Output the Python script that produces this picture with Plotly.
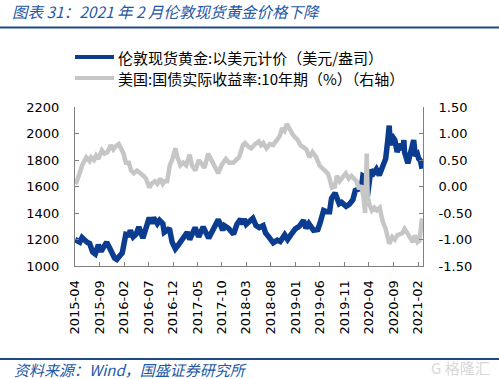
import plotly.graph_objects as go

# ---------------- data ----------------
gold_dates = [
    "2015-04-01","2015-04-15","2015-05-01","2015-05-15","2015-06-01","2015-06-15","2015-07-01","2015-07-20",
    "2015-08-05","2015-08-24","2015-09-10","2015-09-25","2015-10-15","2015-11-01","2015-11-20","2015-12-03",
    "2015-12-17","2016-01-05","2016-01-20","2016-02-11","2016-03-01","2016-03-10","2016-03-28","2016-04-15",
    "2016-05-02","2016-05-27","2016-06-15","2016-07-06","2016-07-20","2016-08-02","2016-08-25","2016-09-08",
    "2016-09-28","2016-10-07","2016-10-25","2016-11-08","2016-11-25","2016-12-15","2017-01-03","2017-01-25",
    "2017-02-15","2017-02-27","2017-03-14","2017-04-03","2017-04-17","2017-05-09","2017-06-06","2017-07-10",
    "2017-08-01","2017-08-28","2017-09-08","2017-10-05","2017-10-16","2017-11-10","2017-12-12","2018-01-02",
    "2018-01-25","2018-02-08","2018-02-16","2018-03-01","2018-04-11","2018-05-01","2018-05-21","2018-06-14",
    "2018-06-29","2018-07-19","2018-08-16","2018-09-10","2018-09-28","2018-10-26","2018-11-13","2018-12-03",
    "2018-12-31","2019-01-25","2019-02-20","2019-03-07","2019-03-25","2019-04-23","2019-05-20","2019-06-03",
    "2019-06-25","2019-07-15","2019-08-01","2019-08-13","2019-09-04","2019-09-30","2019-10-15","2019-11-12",
    "2019-12-01","2019-12-24","2020-01-08","2020-01-27","2020-02-14","2020-02-24","2020-03-09","2020-03-19",
    "2020-04-14","2020-05-01","2020-05-18","2020-06-05","2020-06-30","2020-07-15","2020-07-27","2020-08-06",
    "2020-08-12","2020-08-19","2020-09-10","2020-09-24","2020-10-12","2020-10-30","2020-11-05","2020-11-09",
    "2020-11-30","2020-12-15","2021-01-05","2021-01-15","2021-01-28","2021-02-05","2021-02-16","2021-02-26",
]
gold_values = [
    1200,1195,1180,1215,1190,1180,1170,1105,
    1090,1160,1110,1145,1180,1140,1075,1060,
    1050,1080,1100,1240,1235,1270,1220,1240,
    1295,1210,1285,1365,1320,1365,1320,1345,
    1320,1255,1270,1285,1180,1130,1160,1200,
    1235,1255,1200,1250,1290,1220,1295,1210,
    1270,1320,1350,1270,1305,1285,1240,1315,
    1355,1315,1355,1315,1360,1305,1290,1305,
    1250,1220,1175,1195,1185,1235,1200,1235,
    1280,1300,1345,1285,1320,1270,1275,1325,
    1420,1410,1410,1510,1550,1470,1480,1450,
    1465,1500,1570,1580,1585,1680,1670,1490,
    1725,1700,1730,1685,1770,1810,1940,2060,
    1910,1990,1950,1860,1920,1880,1950,1860,
    1775,1855,1950,1830,1845,1810,1795,1735,
]

yield_dates = [
    "2015-04-01","2015-04-10","2015-04-30","2015-05-15","2015-06-10","2015-06-30","2015-07-10","2015-07-28",
    "2015-08-10","2015-08-24","2015-09-15","2015-10-01","2015-10-20","2015-11-09","2015-11-25","2015-12-10",
    "2015-12-29","2016-01-12","2016-01-28","2016-02-11","2016-03-01","2016-03-15","2016-04-01","2016-04-20",
    "2016-05-15","2016-06-01","2016-06-15","2016-07-06","2016-07-20","2016-08-10","2016-08-25","2016-09-12",
    "2016-09-28","2016-10-10","2016-10-25","2016-11-10","2016-11-25","2016-12-15","2016-12-28","2017-01-15",
    "2017-02-01","2017-02-20","2017-03-14","2017-03-28","2017-04-18","2017-05-10","2017-05-30","2017-06-14",
    "2017-07-07","2017-07-25","2017-08-10","2017-09-07","2017-09-28","2017-10-25","2017-11-15","2017-12-10",
    "2017-12-28","2018-01-15","2018-02-08","2018-02-21","2018-03-15","2018-04-01","2018-04-25","2018-05-17",
    "2018-06-01","2018-06-15","2018-07-05","2018-07-25","2018-08-15","2018-09-05","2018-09-25","2018-10-10",
    "2018-10-25","2018-11-08","2018-11-28","2018-12-15","2018-12-31","2019-01-15","2019-02-01","2019-02-20",
    "2019-03-10","2019-03-28","2019-04-17","2019-05-10","2019-05-30","2019-06-15","2019-07-01","2019-07-20",
    "2019-08-01","2019-08-15","2019-09-03","2019-09-15","2019-10-03","2019-10-25","2019-11-10","2019-11-28",
    "2019-12-15","2019-12-31","2020-01-15","2020-01-31","2020-02-14","2020-02-28","2020-03-09","2020-03-19",
    "2020-03-25","2020-04-06","2020-04-20","2020-05-05","2020-05-20","2020-06-08","2020-06-25","2020-07-15",
    "2020-07-31","2020-08-06","2020-08-25","2020-09-10","2020-09-25","2020-10-12","2020-10-26","2020-11-10",
    "2020-11-30","2020-12-15","2020-12-31","2021-01-12","2021-01-29","2021-02-10","2021-02-22","2021-02-26",
]
yield_values = [
    0.05,0.08,0.25,0.40,0.55,0.48,0.55,0.50,
    0.58,0.52,0.68,0.62,0.65,0.78,0.70,0.76,
    0.80,0.72,0.62,0.45,0.45,0.30,0.25,0.30,
    0.25,0.20,0.15,-0.02,0.05,0.10,0.05,0.15,
    0.05,0.10,0.10,0.40,0.50,0.72,0.55,0.40,
    0.45,0.40,0.60,0.40,0.30,0.50,0.42,0.35,
    0.62,0.50,0.40,0.25,0.40,0.52,0.45,0.45,
    0.50,0.55,0.78,0.82,0.75,0.72,0.80,0.85,
    0.78,0.82,0.72,0.80,0.78,0.88,0.95,1.10,
    1.05,1.18,1.05,0.98,0.92,0.88,0.78,0.75,
    0.70,0.55,0.65,0.55,0.40,0.35,0.30,0.25,
    0.15,-0.02,0.00,0.20,0.10,0.20,0.25,0.15,
    0.20,0.15,0.10,-0.05,0.02,-0.20,-0.50,0.62,
    -0.20,-0.35,-0.45,-0.40,-0.45,-0.40,-0.65,-0.80,
    -1.00,-1.08,-0.95,-1.00,-0.92,-0.90,-0.88,-0.80,
    -0.90,-0.98,-1.05,-0.92,-1.05,-1.02,-0.75,-0.60,
]

x_tick_vals = ["2015-04-01","2015-09-01","2016-02-01","2016-07-01","2016-12-01","2017-05-01","2017-10-01",
               "2018-03-01","2018-08-01","2019-01-01","2019-06-01","2019-11-01","2020-04-01","2020-09-01",
               "2021-02-01"]
x_tick_text = [d[:7] for d in x_tick_vals]
left_ticks = [1000, 1200, 1400, 1600, 1800, 2000, 2200]
right_ticks = [-1.5, -1.0, -0.5, 0.0, 0.5, 1.0, 1.5]
right_tick_text = ["%.2f" % v for v in right_ticks]

gold_name = "伦敦现货黄金:以美元计价（美元/盎司）"
yield_name = "美国:国债实际收益率:10年期（%）（右轴）"
title_text = "图表 31：2021 年 2 月伦敦现货黄金价格下降"
source_text = "资料来源：Wind，国盛证券研究所"

BLUE = "#0B3C8F"
GRAY = "#C6C6C6"
NAVY = "#1F4A85"
AX = "#808080"
CJK = "Noto Sans CJK SC"
NUM = "DejaVu Sans"

# plot area geometry (pixels)
L, R, T, B = 75, 423, 107, 266
W, H = 499, 379
def px_x(p):
    return (p - L) / (R - L)
def px_y(p):
    return (B - p) / (B - T)

fig = go.Figure()
fig.add_trace(go.Scatter(x=gold_dates, y=gold_values, mode="lines", name=gold_name,
                         line=dict(color=BLUE, width=5.5), yaxis="y"))
fig.add_trace(go.Scatter(x=yield_dates, y=yield_values, mode="lines", name=yield_name,
                         line=dict(color=GRAY, width=4.5), yaxis="y2"))

fig.update_layout(
    width=W, height=H,
    margin=dict(l=L, r=W - R, t=T, b=H - B, pad=0),
    paper_bgcolor="white", plot_bgcolor="white",
    showlegend=False,
    title=dict(text=title_text, x=12 / W, xref="container", xanchor="left",
               y=1 - 13 / H, yref="container", yanchor="middle",
               font=dict(family=CJK, size=15.5, color="#2458A6", style="italic")),
    xaxis=dict(type="date", range=["2015-04-01", "2021-03-04"],
               tickmode="array", tickvals=x_tick_vals, ticktext=x_tick_text,
               tickangle=-90, ticks="inside", ticklen=4, tickcolor=AX, tickwidth=1,
               showline=True, linecolor=AX, linewidth=1, showgrid=False, zeroline=False,
               tickfont=dict(family=NUM, size=13, color="#000"), ticklabelstandoff=8),
    yaxis=dict(range=[1000, 2200], tickmode="array", tickvals=left_ticks,
               ticks="inside", ticklen=4, tickcolor=AX, showline=True, linecolor=AX, linewidth=1,
               showgrid=False, zeroline=False, tickfont=dict(family=NUM, size=13, color="#000"),
               ticklabelstandoff=12),
    yaxis2=dict(range=[-1.5, 1.5], overlaying="y", side="right", tickmode="array",
                tickvals=right_ticks, ticktext=right_tick_text,
                ticks="inside", ticklen=4, tickcolor=AX, showline=True, linecolor=AX, linewidth=1,
                showgrid=False, zeroline=False, tickfont=dict(family=NUM, size=13, color="#000"),
                ticklabelstandoff=12),
)

shapes = [
    # rule under title
    dict(type="line", xref="paper", yref="paper", x0=px_x(0), x1=px_x(W), y0=px_y(27.5), y1=px_y(27.5),
         line=dict(color=NAVY, width=2)),
    # rule above source
    dict(type="line", xref="paper", yref="paper", x0=px_x(0), x1=px_x(W), y0=px_y(359), y1=px_y(359),
         line=dict(color=NAVY, width=2)),
    # legend samples
    dict(type="line", xref="paper", yref="paper", x0=px_x(75), x1=px_x(114), y0=px_y(57), y1=px_y(57),
         line=dict(color=BLUE, width=4)),
    dict(type="line", xref="paper", yref="paper", x0=px_x(75), x1=px_x(114), y0=px_y(78), y1=px_y(78),
         line=dict(color=GRAY, width=4)),
]
annotations = [
    dict(text=gold_name, xref="paper", yref="paper", x=px_x(116), y=px_y(57), xanchor="left",
         yanchor="middle", showarrow=False, font=dict(family=CJK, size=15, color="#000")),
    dict(text=yield_name, xref="paper", yref="paper", x=px_x(116), y=px_y(78), xanchor="left",
         yanchor="middle", showarrow=False, font=dict(family=CJK, size=15, color="#000")),
    dict(text=source_text, xref="paper", yref="paper", x=px_x(12), y=px_y(369), xanchor="left",
         yanchor="middle", showarrow=False,
         font=dict(family=CJK, size=15, color="#2458A6", style="italic")),
    dict(text="G 格隆汇", xref="paper", yref="paper", x=px_x(492), y=px_y(367), xanchor="right",
         yanchor="middle", showarrow=False, font=dict(family=CJK, size=15, color="#D8D8D8")),
]
fig.update_layout(shapes=shapes, annotations=annotations)

fig.write_html("out.html", config={"displayModeBar": False, "staticPlot": True},
               post_script="document.body.style.margin='0';document.body.style.padding='0';"
                           "document.body.style.overflow='hidden';")
